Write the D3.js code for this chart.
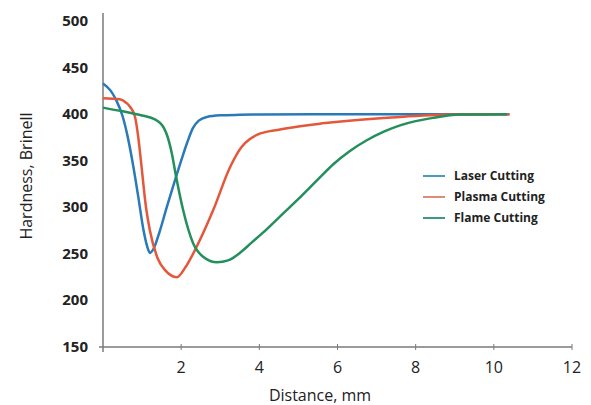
<!DOCTYPE html>
<html>
<head>
<meta charset="utf-8">
<script src="https://cdn.jsdelivr.net/npm/d3@7"></script>
<style>
  body { margin: 0; background: #fff; }
  svg { font-family: "Open Sans", "Noto Sans", sans-serif; }
</style>
</head>
<body>
<div id="chart"></div>
<script>
// distance (mm), hardness (Brinell)
const laser = [[0,433],[0.2,425],[0.35,414],[0.5,398],[0.62,378],[0.75,350],[0.9,312],[1.03,277],[1.13,258],[1.2,251],[1.3,256],[1.45,274],[1.63,300],[1.87,333],[2.0,350],[2.15,369],[2.3,385],[2.45,393],[2.66,397],[3.0,398.7],[3.5,399.3],[4,399.6],[6,400],[8,400],[10.4,400]];
const plasma = [[0,417],[0.43,416],[0.6,412],[0.69,408],[0.82,397],[0.9,376],[0.97,350],[1.1,300],[1.2,275],[1.4,245],[1.6,232],[1.89,225],[2.1,235],[2.4,258],[2.82,297],[3.25,343],[3.55,365],[3.75,373],[3.95,378],[4.53,383.5],[5.04,387],[5.55,389.8],[5.89,391.3],[6.75,394.5],[7.6,397],[8.9,399.5],[10.4,400]];
const flame = [[0,407],[0.5,403],[1.0,398.5],[1.3,395],[1.45,391],[1.56,385],[1.65,376],[1.76,358],[1.87,333],[2.05,297],[2.3,262],[2.56,247],[2.92,241],[3.2,243],[3.5,251],[3.8,262],[4.1,273],[4.5,289],[5.0,309],[5.5,330],[5.9,346.5],[6.3,360],[6.75,372],[7.2,381.5],[7.6,388],[8.0,392.5],[8.44,396],[9.13,399.5],[10.34,400]];

const series = [
  { name: "Laser Cutting", values: laser, color: "#2a7ab9", legend: "#4b9cb8" },
  { name: "Plasma Cutting", values: plasma, color: "#e5573a", legend: "#e28a78" },
  { name: "Flame Cutting", values: flame, color: "#238f5c", legend: "#3a9a82" }
];

const xTicks = [2, 4, 6, 8, 10, 12];
const yTicks = [150, 200, 250, 300, 350, 400, 450, 500];

const width = 591, height = 405;

const svg = d3.select("#chart").append("svg")
  .attr("width", width)
  .attr("height", height);

const x = d3.scaleLinear().domain([0, 12]).range([103, 572]);
const y = d3.scaleLinear().domain([150, 500]).range([347, 21]);

// axes lines
svg.append("line")
  .attr("x1", x(0)).attr("x2", x(0))
  .attr("y1", 13).attr("y2", 352)
  .attr("stroke", "#7a7a7a").attr("stroke-width", 1.5);

svg.append("line")
  .attr("x1", 99).attr("x2", x(12))
  .attr("y1", y(150)).attr("y2", y(150))
  .attr("stroke", "#7a7a7a").attr("stroke-width", 1.5);

svg.selectAll(".xtick")
  .data(xTicks)
  .enter().append("line")
  .attr("class", "xtick")
  .attr("x1", d => x(d)).attr("x2", d => x(d))
  .attr("y1", y(150) - 3).attr("y2", y(150) + 3)
  .attr("stroke", "#7a7a7a").attr("stroke-width", 1);

svg.selectAll(".xlabel")
  .data(xTicks)
  .enter().append("text")
  .attr("class", "xlabel")
  .attr("x", d => x(d))
  .attr("y", 373)
  .attr("text-anchor", "middle")
  .style("font-size", "16px")
  .style("fill", "#222")
  .text(d => d);

svg.selectAll(".ylabel")
  .data(yTicks)
  .enter().append("text")
  .attr("class", "ylabel")
  .attr("x", 88)
  .attr("y", d => y(d) + 5)
  .attr("text-anchor", "end")
  .style("font-size", "15px")
  .style("font-weight", "bold")
  .style("fill", "#222")
  .text(d => d);

svg.append("text")
  .attr("x", 320)
  .attr("y", 401)
  .attr("text-anchor", "middle")
  .style("font-size", "16px")
  .style("fill", "#222")
  .text("Distance, mm");

svg.append("text")
  .attr("transform", "translate(32,176) rotate(-90)")
  .attr("text-anchor", "middle")
  .style("font-size", "16px")
  .style("fill", "#222")
  .text("Hardness, Brinell");

const line = d3.line()
  .x(d => x(d[0]))
  .y(d => y(d[1]))
  .curve(d3.curveMonotoneX);

svg.selectAll(".series")
  .data(series)
  .enter().append("path")
  .attr("class", "series")
  .attr("d", d => line(d.values))
  .attr("fill", "none")
  .attr("stroke", d => d.color)
  .attr("stroke-width", 2.5);

const legend = svg.selectAll(".legend")
  .data(series)
  .enter().append("g")
  .attr("class", "legend")
  .attr("transform", (d, i) => `translate(423, ${176 + i * 21})`);

legend.append("line")
  .attr("x1", 0).attr("x2", 22)
  .attr("y1", 0).attr("y2", 0)
  .attr("stroke", d => d.legend)
  .attr("stroke-width", 2);

legend.append("text")
  .attr("x", 31)
  .attr("y", 4)
  .style("font-size", "12px")
  .style("font-weight", "bold")
  .style("fill", "#222")
  .text(d => d.name);
</script>
</body>
</html>
